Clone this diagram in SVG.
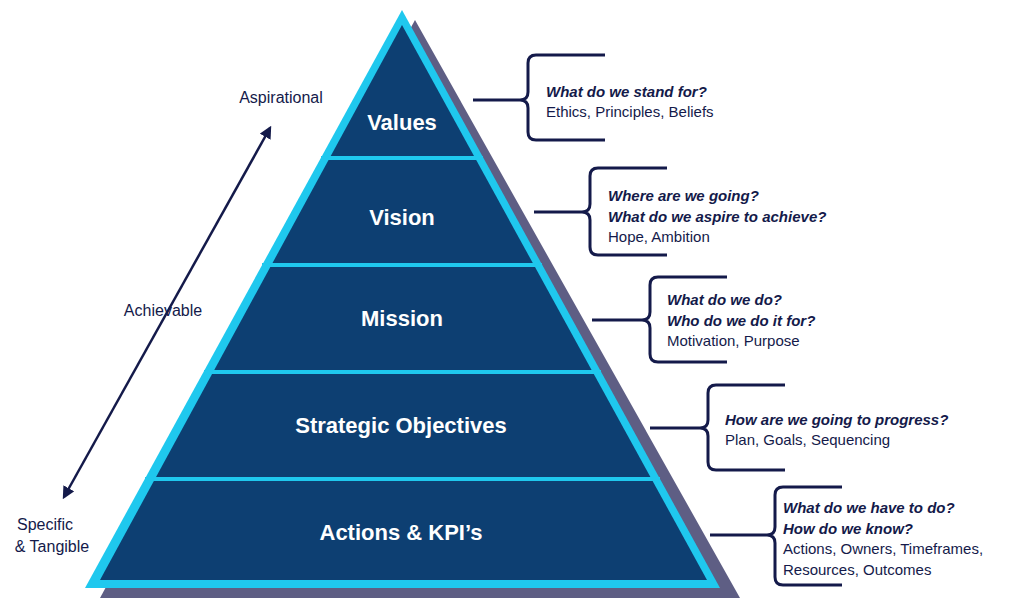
<svg xmlns="http://www.w3.org/2000/svg" width="1019" height="602" viewBox="0 0 1019 602">
<defs>
<marker id="ah" viewBox="0 0 10 10" refX="8" refY="5" markerWidth="5" markerHeight="5" orient="auto-start-reverse"><path d="M0,0 L10,5 L0,10 z" fill="#141a4a"/></marker>
<style>
.lvl{font-family:"Liberation Sans",Arial,sans-serif;font-weight:bold;font-size:22px;fill:#fff;text-anchor:middle}
.t{font-family:"Liberation Sans",Arial,sans-serif;font-size:15px;fill:#141a4a}
.q{font-weight:bold;font-style:italic}
.side{font-family:"Liberation Sans",Arial,sans-serif;font-size:16px;fill:#141a4a;text-anchor:middle}
.br{fill:none;stroke:#141a4a;stroke-width:3}
.div{stroke:#1fc8ee;stroke-width:4}
</style>
</defs>
<rect width="1019" height="602" fill="#fff"/>
<g id="pyramid">
<polygon points="415,20 740,598 100,598" fill="#5e5e84"/>
<polygon points="402,10 720,588 85,588" fill="#1fc8ee"/>
<polygon points="402,25 707,580 100,580" fill="#0d3f72"/>
<line class="div" x1="321" y1="158" x2="483" y2="158"/>
<line class="div" x1="262" y1="265" x2="542" y2="265"/>
<line class="div" x1="204" y1="372" x2="601" y2="372"/>
<line class="div" x1="145" y1="479" x2="660" y2="479"/>
</g>
<g id="values"><text class="lvl" x="402" y="130">Values</text></g>
<g id="vision"><text class="lvl" x="402" y="225">Vision</text></g>
<g id="mission"><text class="lvl" x="402" y="326">Mission</text></g>
<g id="strategic"><text class="lvl" x="401" y="433">Strategic Objectives</text></g>
<g id="actions"><text class="lvl" x="401" y="540">Actions &amp; KPI’s</text></g>
<g id="connectors">
<line x1="473" y1="100" x2="520" y2="100" class="br"/>
<path class="br" d="M605,55 L536,55 Q528,55 528,63 L528,92 Q528,100 520,100 Q528,100 528,108 L528,132 Q528,140 536,140 L605,140"/>
<line x1="534" y1="212" x2="582" y2="212" class="br"/>
<path class="br" d="M667,168 L598,168 Q590,168 590,176 L590,204 Q590,212 582,212 Q590,212 590,220 L590,247 Q590,255 598,255 L667,255"/>
<line x1="592" y1="320" x2="642" y2="320" class="br"/>
<path class="br" d="M727,277 L658,277 Q650,277 650,285 L650,312 Q650,320 642,320 Q650,320 650,328 L650,354 Q650,362 658,362 L727,362"/>
<line x1="650" y1="428" x2="700" y2="428" class="br"/>
<path class="br" d="M785,385 L716,385 Q708,385 708,393 L708,420 Q708,428 700,428 Q708,428 708,436 L708,462 Q708,470 716,470 L785,470"/>
<line x1="710" y1="535" x2="767" y2="535" class="br"/>
<path class="br" d="M842,487 L783,487 Q775,487 775,495 L775,527 Q775,535 767,535 Q775,535 775,543 L775,577 Q775,585 783,585 L842,585"/>
<line x1="270" y1="128" x2="64" y2="497" stroke="#141a4a" stroke-width="2.5" marker-start="url(#ah)" marker-end="url(#ah)"/>
</g>
<g id="labels">
<text class="side" x="281" y="103">Aspirational</text>
<text class="side" x="163" y="316">Achievable</text>
<text class="side" x="45" y="530">Specific</text>
<text class="side" x="52" y="552">&amp; Tangible</text>
<text class="t" x="546" y="97"><tspan class="q">What do we stand for?</tspan><tspan x="546" dy="20">Ethics, Principles, Beliefs</tspan></text>
<text class="t" x="608" y="201"><tspan class="q">Where are we going?</tspan><tspan class="q" x="608" dy="20.5">What do we aspire to achieve?</tspan><tspan x="608" dy="20.5">Hope, Ambition</tspan></text>
<text class="t" x="667" y="305"><tspan class="q">What do we do?</tspan><tspan class="q" x="667" dy="20.5">Who do we do it for?</tspan><tspan x="667" dy="20.5">Motivation, Purpose</tspan></text>
<text class="t" x="725" y="425"><tspan class="q">How are we going to progress?</tspan><tspan x="725" dy="20">Plan, Goals, Sequencing</tspan></text>
<text class="t" x="783" y="513"><tspan class="q">What do we have to do?</tspan><tspan class="q" x="783" dy="20.5">How do we know?</tspan><tspan x="783" dy="20.5">Actions, Owners, Timeframes,</tspan><tspan x="783" dy="20.5">Resources, Outcomes</tspan></text>
</g>
</svg>
